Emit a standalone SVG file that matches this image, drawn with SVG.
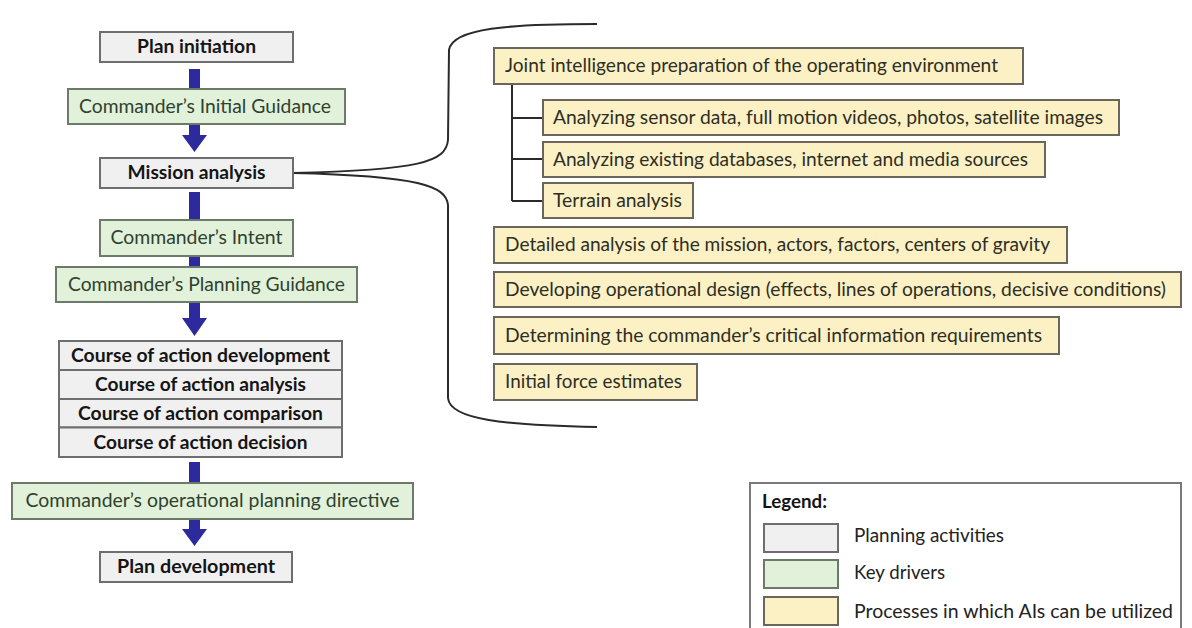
<svg xmlns="http://www.w3.org/2000/svg" width="1192" height="628" viewBox="0 0 1192 628">
<style>
.t{font-family:Lato,"Open Sans","Liberation Sans",sans-serif;font-size:19.5px}
.c{text-anchor:middle}
.b{font-weight:bold;fill:#151515}
.gt{fill:#2f412f}
.yt{fill:#2e2e24}
.gray{fill:#f0f0f0;stroke:#6e6e6e;stroke-width:2}
.green{fill:#e1f1da;stroke:#6c7a6a;stroke-width:2}
.yel{fill:#fcf1c4;stroke:#6a675a;stroke-width:2}
.arrow{fill:#2d2a9e}
.line{fill:none;stroke:#2a2a2a;stroke-width:2}
</style>
<rect width="1192" height="628" fill="#ffffff"/>
<g id="connectors">
<polygon class="arrow" points="189,69 200,69 200,135 207,135 194.5,152 182,135 189,135"/>
<polygon class="arrow" points="189,192 200,192 200,318 207,318 194.5,336 182,318 189,318"/>
<polygon class="arrow" points="189,462 200,462 200,529 207,529 194.5,546 182,529 189,529"/>
<path class="line" d="M597,24 C510,24 452,28 449,50 L448,140 C446,162 420,170 293,173 C420,176 446,186 448,205 L448,398 C450,420 505,425 597,427"/>
<path class="line" d="M512,84 V201 M512,118 H543 M512,159 H543 M512,201 H543"/>
</g>
<g id="plan-initiation"><rect class="gray" x="100" y="32" width="193" height="30"/><text class="t c b" x="196.5" y="53" textLength="119" lengthAdjust="spacingAndGlyphs">Plan initiation</text></g>
<g id="initial-guidance"><rect class="green" x="68" y="89" width="277" height="35"/><text class="t c gt" x="205" y="113" textLength="252" lengthAdjust="spacingAndGlyphs">Commander’s Initial Guidance</text></g>
<g id="mission-analysis"><rect class="gray" x="100" y="158" width="193" height="30"/><text class="t c b" x="196.5" y="179" textLength="138" lengthAdjust="spacingAndGlyphs">Mission analysis</text></g>
<g id="intent"><rect class="green" x="100" y="220" width="193" height="36"/><text class="t c gt" x="196.5" y="244" textLength="172" lengthAdjust="spacingAndGlyphs">Commander’s Intent</text></g>
<g id="planning-guidance"><rect class="green" x="56" y="267" width="301" height="35"/><text class="t c gt" x="206.5" y="291" textLength="277" lengthAdjust="spacingAndGlyphs">Commander’s Planning Guidance</text></g>
<g id="coa-development"><rect class="gray" x="59" y="341" width="283" height="29"/><text class="t c b" x="200.5" y="362" textLength="259" lengthAdjust="spacingAndGlyphs">Course of action development</text></g>
<g id="coa-analysis"><rect class="gray" x="59" y="370" width="283" height="29"/><text class="t c b" x="200.5" y="391" textLength="211" lengthAdjust="spacingAndGlyphs">Course of action analysis</text></g>
<g id="coa-comparison"><rect class="gray" x="59" y="399" width="283" height="28.5"/><text class="t c b" x="200.5" y="419.5" textLength="245" lengthAdjust="spacingAndGlyphs">Course of action comparison</text></g>
<g id="coa-decision"><rect class="gray" x="59" y="427.5" width="283" height="29.5"/><text class="t c b" x="200.5" y="448.5" textLength="214" lengthAdjust="spacingAndGlyphs">Course of action decision</text></g>
<g id="planning-directive"><rect class="green" x="12" y="483" width="401" height="36"/><text class="t c gt" x="212.5" y="507" textLength="374" lengthAdjust="spacingAndGlyphs">Commander’s operational planning directive</text></g>
<g id="plan-development"><rect class="gray" x="100" y="552" width="192" height="30"/><text class="t c b" x="196" y="573" textLength="158" lengthAdjust="spacingAndGlyphs">Plan development</text></g>
<g id="joint-intelligence"><rect class="yel" x="494" y="48" width="529" height="36"/><text class="t yt" x="505" y="72" textLength="493" lengthAdjust="spacingAndGlyphs">Joint intelligence preparation of the operating environment</text></g>
<g id="sensor-data"><rect class="yel" x="543" y="100" width="576" height="35"/><text class="t yt" x="553" y="124" textLength="550" lengthAdjust="spacingAndGlyphs">Analyzing sensor data, full motion videos, photos, satellite images</text></g>
<g id="databases"><rect class="yel" x="543" y="142" width="502" height="35"/><text class="t yt" x="553" y="166" textLength="475" lengthAdjust="spacingAndGlyphs">Analyzing existing databases, internet and media sources</text></g>
<g id="terrain"><rect class="yel" x="543" y="183" width="150" height="35"/><text class="t yt" x="553" y="207" textLength="129" lengthAdjust="spacingAndGlyphs">Terrain analysis</text></g>
<g id="detailed-analysis"><rect class="yel" x="494" y="227" width="573" height="36"/><text class="t yt" x="505" y="251" textLength="545" lengthAdjust="spacingAndGlyphs">Detailed analysis of the mission, actors, factors, centers of gravity</text></g>
<g id="operational-design"><rect class="yel" x="494" y="272" width="687" height="35"/><text class="t yt" x="505" y="296" textLength="661" lengthAdjust="spacingAndGlyphs">Developing operational design (effects, lines of operations, decisive conditions)</text></g>
<g id="ccir"><rect class="yel" x="494" y="317" width="565" height="37"/><text class="t yt" x="505" y="342" textLength="537" lengthAdjust="spacingAndGlyphs">Determining the commander’s critical information requirements</text></g>
<g id="force-estimates"><rect class="yel" x="494" y="364" width="203" height="36"/><text class="t yt" x="505" y="388" textLength="177" lengthAdjust="spacingAndGlyphs">Initial force estimates</text></g>
<g id="legend">
<rect x="750" y="483" width="431" height="170" fill="#ffffff" stroke="#7a7a7a" stroke-width="2"/>
<text class="t b" x="762" y="508" textLength="65" lengthAdjust="spacingAndGlyphs">Legend:</text>
<rect class="gray" x="764" y="524" width="74" height="28"/>
<text class="t" x="854" y="542" fill="#222" textLength="150" lengthAdjust="spacingAndGlyphs">Planning activities</text>
<rect class="green" x="764" y="560" width="74" height="28"/>
<text class="t" x="854" y="579" fill="#222" textLength="91" lengthAdjust="spacingAndGlyphs">Key drivers</text>
<rect class="yel" x="764" y="597" width="74" height="28"/>
<text class="t" x="854" y="618" fill="#222" textLength="319" lengthAdjust="spacingAndGlyphs">Processes in which AIs can be utilized</text>
</g>
</svg>
